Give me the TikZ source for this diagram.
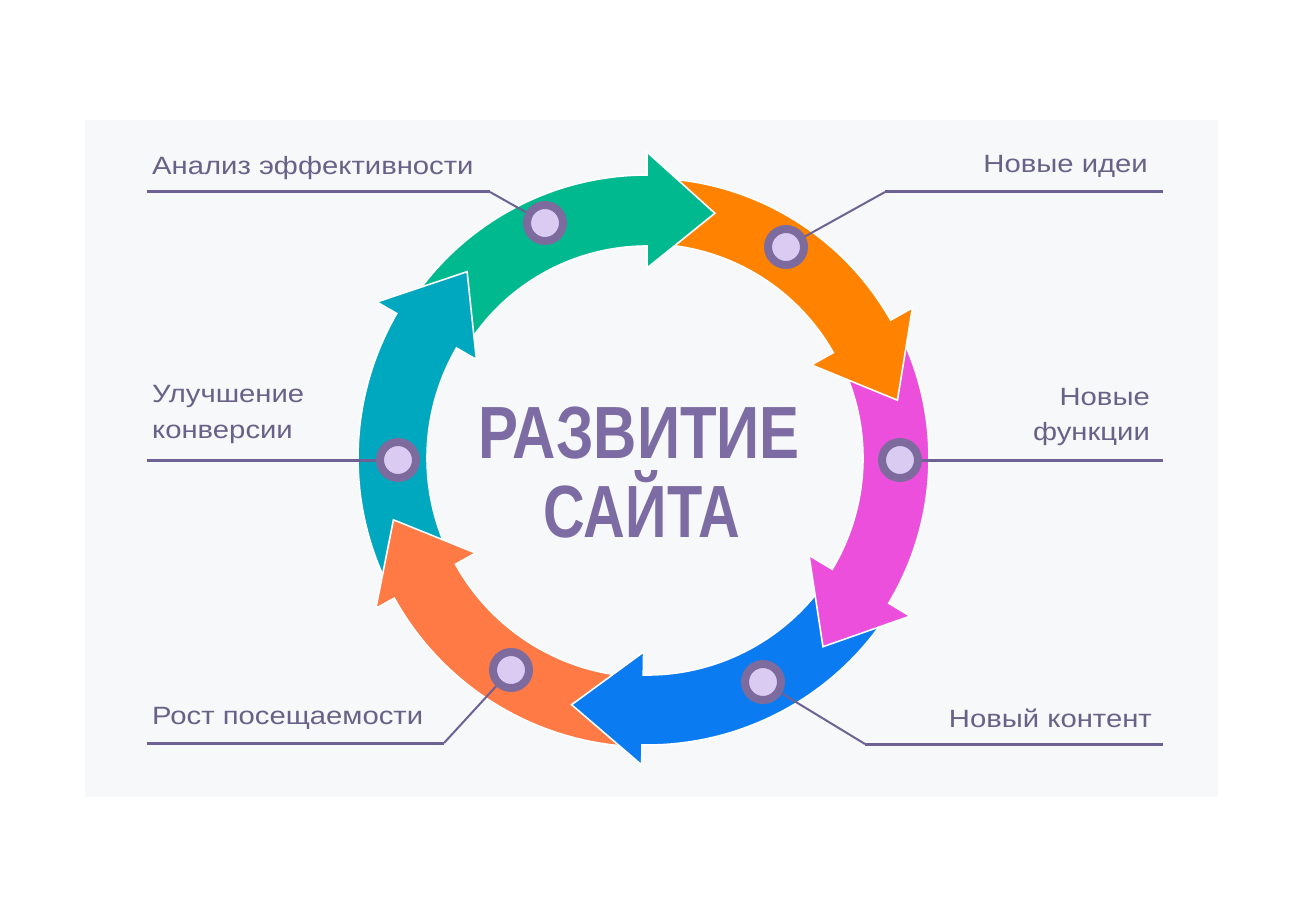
\documentclass[tikz,border=0pt]{standalone}
\usepackage{fontspec}
\setmainfont{Liberation Sans}
\definecolor{bgc}{HTML}{F7F8F9}
\definecolor{cgreen}{HTML}{00B98E}
\definecolor{cteal}{HTML}{00A8BF}
\definecolor{corange}{HTML}{FF8300}
\definecolor{cpink}{HTML}{EC4FDB}
\definecolor{cblue}{HTML}{0B7BF2}
\definecolor{ccoral}{HTML}{FF7A45}
\definecolor{dotring}{HTML}{7E6B9E}
\definecolor{dotfill}{HTML}{DACBF3}
\definecolor{txtc}{HTML}{6A6189}
\definecolor{ttlc}{HTML}{7C6CA3}
\definecolor{leadc}{HTML}{6E6194}
\newcommand\cycarrow[9]{%
  \path[fill=#1, draw=white, line width=1.6pt, line join=miter]
  (#2:#6) arc[start angle=#2, end angle=#3, radius=#6] -- (#3:#8) -- (#4:#9) -- (#3:#7) -- (#3:#5)
  arc[start angle=#3, end angle=#2, radius=#5] -- cycle;}
\tikzset{
  dotnode/.style={circle, minimum size=36pt, inner sep=0pt, line width=8pt, draw=dotring, fill=dotfill},
  lbl/.style={text=txtc, font=\fontsize{25}{30}\selectfont, inner sep=0pt},
  ttlstyle/.style={text=ttlc, font=\fontsize{74}{80}\selectfont\bfseries, inner sep=0pt},
  leadthick/.style={draw=leadc, line width=3pt},
  leadthin/.style={draw=leadc, line width=2pt}
}
\begin{document}
\begin{tikzpicture}[x=1pt,y=-1pt]
\useasboundingbox (0,0) rectangle (1300,920);
\fill[white] (0,0) rectangle (1300,920);
\fill[bgc] (85,120) rectangle (1218,797);

% ring of arrows
\begin{scope}[shift={(647,458)},yscale=-1]
  \cycarrow{cgreen}{146}{90}{74.5}{212}{283}{190}{306}{254}
  \cycarrow{cteal}{205}{150}{134}{220}{289}{197}{312}{259}
  \cycarrow{ccoral}{266}{209}{193.7}{219}{289}{196}{310}{261}
  \cycarrow{cblue}{-34}{-91}{-107}{217}{287}{194}{307}{258}
  \cycarrow{cpink}{25.5}{-31}{-47}{216}{282}{189}{307}{258}
  \cycarrow{corange}{86}{29.5}{13}{214}{280}{189}{305}{257}
  \begin{scope}
    \clip (0:0) -- (66:360) arc[start angle=66, end angle=100, radius=360] -- cycle;
    \cycarrow{cgreen}{146}{90}{74.5}{212}{283}{190}{306}{254}
  \end{scope}
\end{scope}

% title
\node[ttlstyle, anchor=base] (ttl1) at (639,458) {\scalebox{0.81}[1]{РАЗВИТИЕ}};
\node[ttlstyle, anchor=base] (ttl2) at (642,537) {\scalebox{0.78}[1]{САЙТА}};

% dots
\node[dotnode] (d1) at (545,223) {};
\node[dotnode] (d2) at (786,247) {};
\node[dotnode] (d3) at (900,460) {};
\node[dotnode] (d4) at (763,682) {};
\node[dotnode] (d5) at (511,670) {};
\node[dotnode] (d6) at (398,460) {};

% leader corners and ends
\coordinate (k1) at (490,192);
\coordinate (e1) at (147,192);
\coordinate (k2) at (885,192);
\coordinate (e2) at (1163,192);
\coordinate (e3) at (1163,460);
\coordinate (k4) at (865,744);
\coordinate (e4) at (1163,744);
\coordinate (k5) at (444,743);
\coordinate (e5) at (147,743);
\coordinate (e6) at (147,460);

\draw[leadthin] (d1) -- (k1);
\draw[leadthick] (k1) -- (e1);
\draw[leadthin] (d2) -- (k2);
\draw[leadthick] (k2) -- (e2);
\draw[leadthick] (d3) -- (e3);
\draw[leadthin] (d4) -- (k4);
\draw[leadthick] (k4) -- (e4);
\draw[leadthin] (d5) -- (k5);
\draw[leadthick] (k5) -- (e5);
\draw[leadthick] (d6) -- (e6);

% labels
\node[lbl, anchor=base west] (t1) at (152,175) {\scalebox{1.17}[1]{Анализ эффективности}};
\node[lbl, anchor=base east] (t2) at (1148,173) {\scalebox{1.17}[1]{Новые идеи}};
\node[lbl, anchor=base east] (t3a) at (1150,405) {\scalebox{1.17}[1]{Новые}};
\node[lbl, anchor=base east] (t3b) at (1150,440) {\scalebox{1.17}[1]{функции}};
\node[lbl, anchor=base east] (t4) at (1152,727) {\scalebox{1.17}[1]{Новый контент}};
\node[lbl, anchor=base west] (t5) at (152,724) {\scalebox{1.17}[1]{Рост посещаемости}};
\node[lbl, anchor=base west] (t6a) at (152,402) {\scalebox{1.17}[1]{Улучшение}};
\node[lbl, anchor=base west] (t6b) at (152,438) {\scalebox{1.17}[1]{конверсии}};
\end{tikzpicture}
\end{document}
